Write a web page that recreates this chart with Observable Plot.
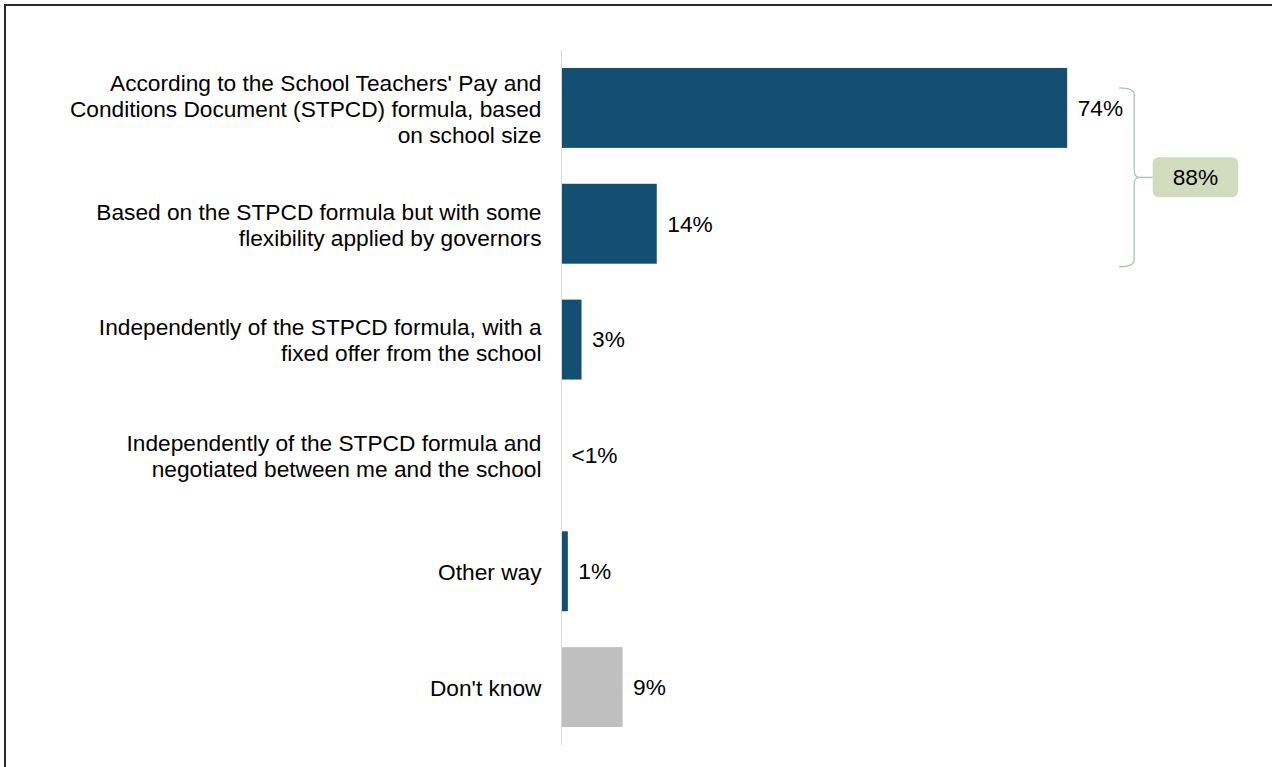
<!DOCTYPE html>
<html>
<head>
<meta charset="utf-8">
<script src="https://cdn.jsdelivr.net/npm/d3@7"></script>
<script src="https://cdn.jsdelivr.net/npm/@observablehq/plot@0.6"></script>
<style>
  html, body { margin: 0; padding: 0; background: #fff; overflow: hidden; }
  #wrap { position: relative; width: 1272px; height: 767px; }
  #frame { position: absolute; left: 4px; top: 4px; width: 1400px; height: 900px;
           border-left: 2px solid #2a2a2a; border-top: 2px solid #2a2a2a; box-sizing: border-box; }
  #chart { position: absolute; left: 0; top: 0; }
</style>
</head>
<body>
<div id="wrap"><div id="frame"></div><div id="chart"></div></div>
<script>
// ---- data ----
const categories = [
  "According to the School Teachers' Pay and Conditions Document (STPCD) formula, based on school size",
  "Based on the STPCD formula but with some flexibility applied by governors",
  "Independently of the STPCD formula, with a fixed offer from the school",
  "Independently of the STPCD formula and negotiated between me and the school",
  "Other way",
  "Don't know"
];
const tickLabels = [
  "According to the School Teachers' Pay and\nConditions Document (STPCD) formula, based\non school size",
  "Based on the STPCD formula but with some\nflexibility applied by governors",
  "Independently of the STPCD formula, with a\nfixed offer from the school",
  "Independently of the STPCD formula and\nnegotiated between me and the school",
  "Other way",
  "Don't know"
];
const values = [74, 14, 3, 0, 1, 9];
const valueLabels = ["74%", "14%", "3%", "<1%", "1%", "9%"];
const netLabel = "88%";            // net of first two categories
const netCategories = [categories[0], categories[1]];

// ---- build ----
const data = categories.map((c, i) => ({cat: c, value: values[i], label: valueLabels[i], tick: tickLabels[i]}));
const tickMap = new Map(data.map(d => [d.cat, d.tick]));

const blue = "#124f72", gray = "#bfbfbf";
const font = "'Liberation Sans', Arial, sans-serif";
const fs = 22.7;

const chart = Plot.plot({
  width: 1272,
  height: 767,
  marginLeft: 561,
  marginRight: 27,
  marginTop: 50,
  marginBottom: 22,
  style: {fontFamily: font, fontSize: fs + "px", color: "#000", background: "transparent"},
  x: {domain: [0, 100], axis: null},
  y: {domain: categories, paddingInner: 0.31, paddingOuter: 0.155, round: false, axis: null},
  marks: [
    Plot.barX(data, {x: "value", y: "cat", fill: d => d.cat === "Don't know" ? gray : blue}),
    Plot.ruleX([0], {stroke: "#d9d9d9", strokeWidth: 1}),
    Plot.axisY({tickSize: 0, tickPadding: 20, fontSize: fs, lineHeight: 1.15,
                tickFormat: d => tickMap.get(d), label: null, fill: "#000"}),
    Plot.text(data, {x: "value", y: "cat", text: "label", dx: 10, textAnchor: "start",
                     fontSize: fs, fill: "#000"})
  ]
});
document.getElementById("chart").appendChild(chart);

// ---- net bracket annotation (positions from the chart's scales) ----
const xs = chart.scale("x"), ys = chart.scale("y");
const bw = ys.bandwidth;
const yTop = ys.apply(netCategories[0]) + 20;
const yBot = ys.apply(netCategories[1]) + bw + 3;
const yMid = (yTop + yBot) / 2;
const xv = xs.apply(83.8);     // vertical line of the brace
const xh = xs.apply(81.6);     // hook ends
const xTip = xv + 5;
const boxX1 = xs.apply(86.5), boxX2 = xs.apply(99);
const svg = d3.select(chart.tagName.toLowerCase() === "svg" ? chart : chart.querySelector("svg"));
const g = svg.append("g");
const r = 7;
g.append("path")
  .attr("d", `M${xh},${yTop} Q${xv},${yTop} ${xv},${yTop + r} L${xv},${yMid - r} Q${xv},${yMid} ${xTip},${yMid}
              Q${xv},${yMid} ${xv},${yMid + r} L${xv},${yBot - r} Q${xv},${yBot} ${xh},${yBot}
              M${xTip},${yMid} L${boxX1},${yMid}`)
  .attr("fill", "none").attr("stroke", "#a9c4b2").attr("stroke-width", 1.3);
g.append("rect")
  .attr("x", boxX1).attr("y", yMid - 20).attr("width", boxX2 - boxX1).attr("height", 40)
  .attr("rx", 6).attr("fill", "#d1dcbf");
g.append("text")
  .attr("x", (boxX1 + boxX2) / 2).attr("y", yMid).attr("dy", "0.35em")
  .attr("text-anchor", "middle").attr("font-size", fs).attr("font-family", font).attr("fill", "#000")
  .text(netLabel);
</script>
</body>
</html>
